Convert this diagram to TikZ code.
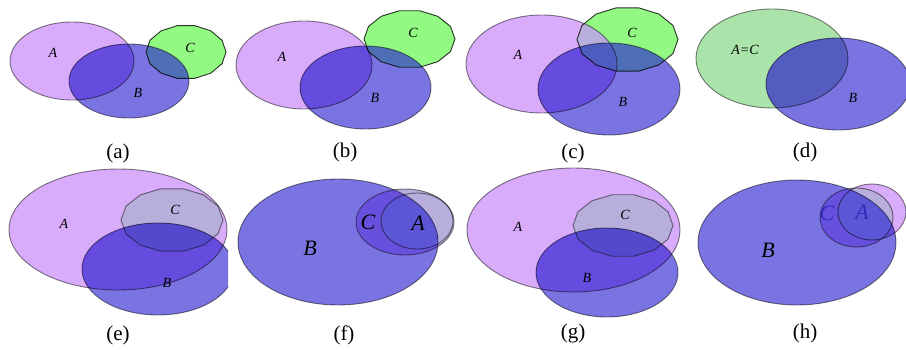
\documentclass[tikz,border=0pt]{standalone}
\usepackage{fontspec}
\setmainfont{Liberation Serif}
\definecolor{cA}{RGB}{216,172,250}
\definecolor{cB}{RGB}{122,116,226}
\definecolor{cC}{RGB}{146,250,130}
\definecolor{cAB}{RGB}{102,76,222}
\definecolor{cAC}{RGB}{184,174,220}
\definecolor{cBC}{RGB}{78,110,182}
\definecolor{cABC}{RGB}{78,92,192}
\definecolor{cABCe}{RGB}{84,72,205}
\definecolor{cD}{RGB}{170,228,170}
\definecolor{cDB}{RGB}{84,92,192}
\definecolor{cBCf}{RGB}{104,80,222}
\definecolor{cABCf}{RGB}{92,86,214}
\definecolor{labblue}{RGB}{45,45,185}
\newcommand\Pol[4]{plot[samples=15,domain=0:360,variable=\vv] ({#1+#3*cos(\vv)},{#2+#4*sin(\vv)}) -- cycle}
\newcommand\Ell[4]{(#1,#2) ellipse [x radius=#3, y radius=#4]}
\newcommand\regions[7]{%
  \fill[#1] \PA; \fill[#2] \PB; \fill[#3] \PC;
  \begin{scope}\clip \PA; \fill[#4] \PB; \fill[#5] \PC; \end{scope}
  \begin{scope}\clip \PB; \fill[#6] \PC; \end{scope}
  \begin{scope}\clip \PA; \clip \PB; \fill[#7] \PC; \end{scope}
}
\tikzset{
  outl/.style={draw=black, draw opacity=0.5, line width=0.9pt},
  outlC/.style={draw=black, draw opacity=0.8, line width=0.9pt},
  lab/.style={font=\fontsize{14}{16}\selectfont\itshape, inner sep=0pt},
  biglab/.style={font=\fontsize{22}{24}\selectfont\itshape, inner sep=0pt},
  captxt/.style={font=\fontsize{21}{24}\selectfont, inner sep=0pt}
}
\begin{document}
\begin{tikzpicture}[x=1pt,y=-1pt]
\useasboundingbox (0,0) rectangle (906,350);
% (a)
\def\PA{\Ell{72}{61}{62}{39}}
\def\PB{\Ell{129}{81}{60}{37}}
\def\PC{\Pol{186}{52}{40}{27}}
\regions{cA}{cB}{cC}{cAB}{cAC}{cBC}{cABC}
\draw[outl] \PA; \draw[outl] \PB; \draw[outlC] \PC;
\node[lab] (aA) at (53,53) {A};
\node[lab] (aB) at (138,93) {B};
\node[lab] (aC) at (190,48) {C};
\node[captxt] (capa) at (118,153) {(a)};
% (b)
\def\PA{\Ell{304}{65}{68}{44}}
\def\PB{\Ell{365.5}{87.5}{65.5}{41.5}}
\def\PC{\Pol{409.5}{39}{45.5}{29}}
\regions{cA}{cB}{cC}{cAB}{cAC}{cBC}{cABC}
\draw[outl] \PA; \draw[outl] \PB; \draw[outlC] \PC;
\node[lab] (bA) at (282,57) {A};
\node[lab] (bB) at (375,98) {B};
\node[lab] (bC) at (413,33) {C};
\node[captxt] (capb) at (345,152) {(b)};
% (c)
\def\PA{\Ell{541.5}{64}{75.5}{49}}
\def\PB{\Ell{609}{89}{71}{46}}
\def\PC{\Pol{627.5}{39.5}{50.5}{32.5}}
\regions{cA}{cB}{cC}{cAB}{cAC}{cBC}{cABC}
\draw[outl] \PA; \draw[outl] \PB; \draw[outlC] \PC;
\node[lab] (lcA) at (518,55) {A};
\node[lab] (lcB) at (623,102) {B};
\node[lab] (lcC) at (632,33) {C};
\node[captxt] (capc) at (573,153) {(c)};
% (d)
\def\PA{\Ell{772}{58.5}{76}{49.5}}
\def\PB{\Ell{838}{84}{72}{46}}
\fill[cD] \PA; \fill[cB] \PB;
\begin{scope}\clip \PA; \fill[cDB] \PB; \end{scope}
\draw[outl] \PA; \draw[outl] \PB;
\node[lab] (dAC) at (745,50) {A=C};
\node[lab] (dB) at (853,98) {B};
\node[captxt] (capd) at (805,152) {(d)};
% (e)
\begin{scope}
\clip (0,160) rectangle (228,330);
\def\PA{\Ell{118}{229.5}{109}{60.5}}
\def\PB{\Ell{158}{269}{76}{46}}
\def\PC{\Pol{172}{220}{51}{32}}
\regions{cA}{cB}{cAC}{cAB}{cAC}{cABCe}{cABCe}
\draw[outl] \PA; \draw[outl] \PB; \draw[outl] \PC;
\end{scope}
\node[lab] (eA) at (64,224) {A};
\node[lab] (eB) at (167,283) {B};
\node[lab] (eC) at (175,210) {C};
\node[captxt] (cape) at (118,335) {(e)};
% (f)
\def\PA{\Ell{417}{221}{36}{28}}
\def\PB{\Ell{338}{242}{100}{63}}
\def\PC{\Ell{405}{222}{49}{33}}
\regions{cA}{cB}{cAC}{cAB}{cAC}{cBCf}{cABCf}
\draw[outl] \PA; \draw[outl] \PB; \draw[outl] \PC;
\node[biglab] (fB) at (310,248) {B};
\node[biglab] (fC) at (368,222) {C};
\node[biglab] (fA) at (418,223) {A};
\node[captxt] (capf) at (344,335) {(f)};
% (g)
\def\PA{\Ell{573.5}{230}{106.5}{62}}
\def\PB{\Ell{607}{272.5}{71}{44.5}}
\def\PC{\Pol{623}{225.5}{50}{31.5}}
\regions{cA}{cB}{cAC}{cAB}{cAC}{cABCe}{cABCe}
\draw[outl] \PA; \draw[outl] \PB; \draw[outl] \PC;
\node[lab] (gA) at (518,227) {A};
\node[lab] (gB) at (587,278) {B};
\node[lab] (gC) at (625,215) {C};
\node[captxt] (capg) at (573,333) {(g)};
% (h)
\def\PA{\Ell{872}{212}{34}{28}}
\def\PB{\Ell{797}{242.5}{99}{62.5}}
\def\PC{\Ell{856.5}{217.5}{36.5}{29.5}}
\regions{cA}{cB}{cAC}{cAB}{cAC}{cBCf}{cABCf}
\draw[outl] \PA; \draw[outl] \PB; \draw[outl] \PC;
\node[biglab] (hB) at (768,250) {B};
\node[biglab, text=labblue] (hC) at (827,213) {C};
\node[biglab, text=labblue] (hA) at (862,212) {A};
\node[captxt] (caph) at (805,333) {(h)};
\end{tikzpicture}
\end{document}
